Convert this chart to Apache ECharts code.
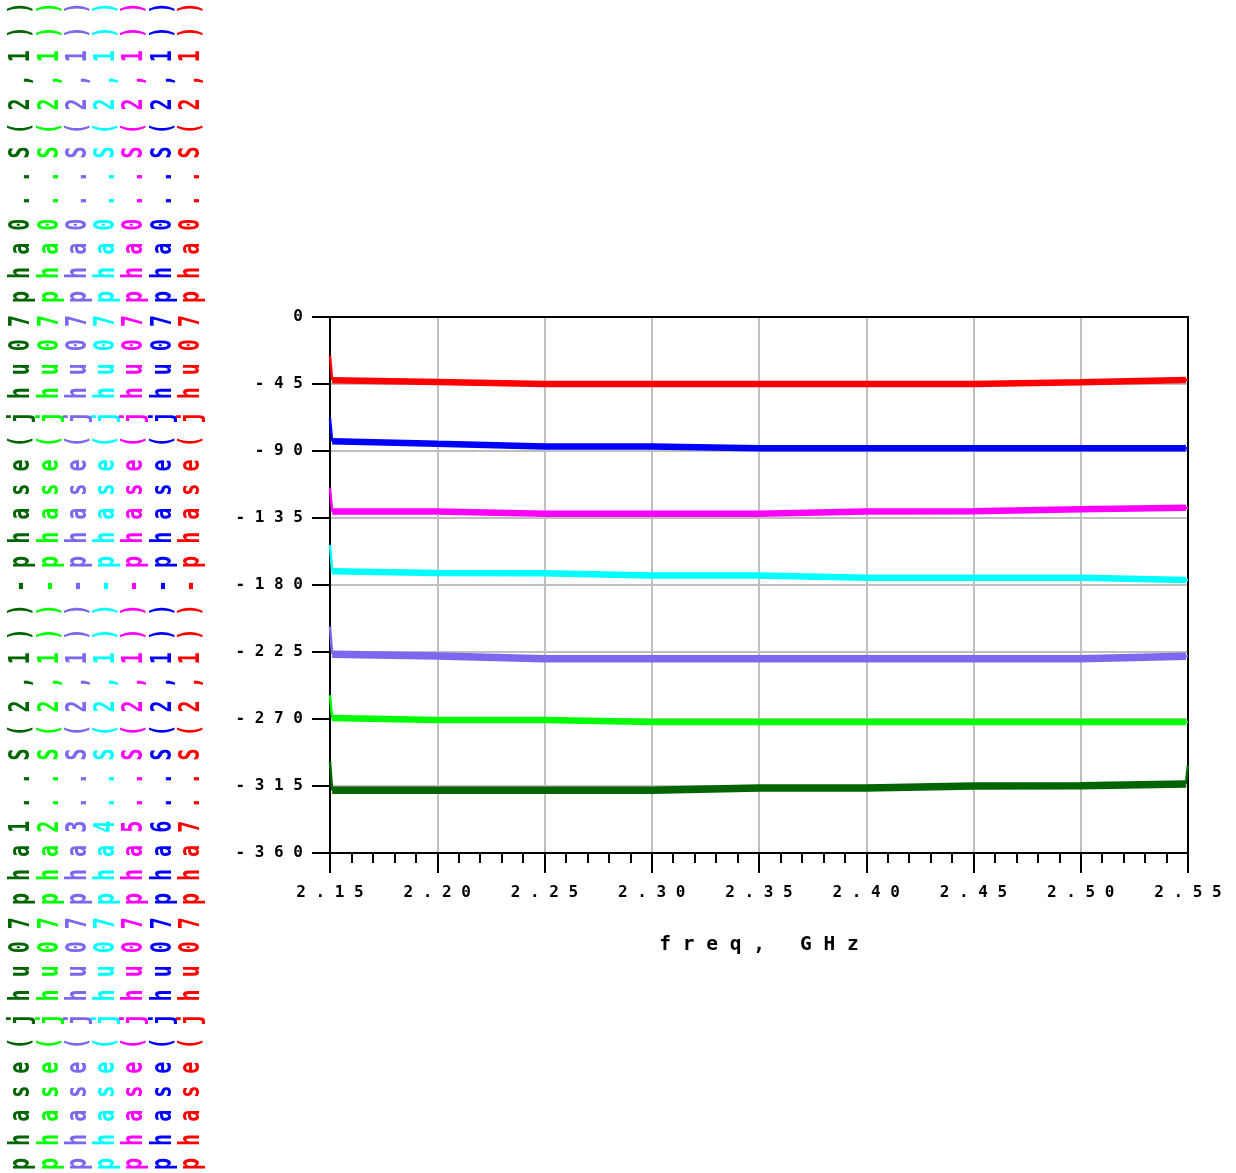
<!DOCTYPE html>
<html>
<head>
<meta charset="utf-8">
<script src="https://cdn.jsdelivr.net/npm/echarts@6/dist/echarts.min.js"></script>
<style>
  html, body { margin: 0; padding: 0; background: #ffffff; }
  #chart { width: 1236px; height: 1173px; }
</style>
</head>
<body>
<div id="chart"></div>
<script>
// Frequency sweep points (GHz)
const freq = [2.15, 2.151, 2.20, 2.25, 2.30, 2.35, 2.40, 2.45, 2.50, 2.549, 2.55];

// Relative phase of each path against pha0 (degrees)
const pha1 = [-298.6, -317.9, -317.9, -317.9, -317.9, -316.3, -316.3, -315.0, -314.8, -313.7, -300.9];
const pha2 = [-253.9, -269.3, -270.6, -270.6, -272.0, -272.0, -272.0, -272.0, -272.0, -272.0, -272.0];
const pha3 = [-208.0, -226.5, -227.7, -229.5, -229.5, -229.5, -229.5, -229.5, -229.5, -227.8, -227.7];
const pha4 = [-153.0, -170.8, -171.9, -172.1, -173.7, -173.7, -175.1, -175.1, -175.1, -176.6, -176.6];
const pha5 = [-115.0, -130.7, -130.7, -132.1, -132.1, -132.1, -130.7, -130.5, -129.2, -128.1, -128.1];
const pha6 = [-68.0, -83.5, -85.2, -86.9, -86.9, -88.2, -88.2, -88.2, -88.2, -88.2, -88.2];
const pha7 = [-26.0, -42.5, -43.7, -45.0, -45.0, -45.0, -45.0, -45.0, -43.9, -42.3, -42.3];

const traceValues = [pha1, pha2, pha3, pha4, pha5, pha6, pha7];

const traceNames = [
  'phase(jhu07pha1..S(2,1))-phase(jhu07pha0..S(2,1))',
  'phase(jhu07pha2..S(2,1))-phase(jhu07pha0..S(2,1))',
  'phase(jhu07pha3..S(2,1))-phase(jhu07pha0..S(2,1))',
  'phase(jhu07pha4..S(2,1))-phase(jhu07pha0..S(2,1))',
  'phase(jhu07pha5..S(2,1))-phase(jhu07pha0..S(2,1))',
  'phase(jhu07pha6..S(2,1))-phase(jhu07pha0..S(2,1))',
  'phase(jhu07pha7..S(2,1))-phase(jhu07pha0..S(2,1))'
];

const traceColors = ['#006400', '#00ff00', '#7b68ee', '#00ffff', '#ff00ff', '#0000ff', '#ff0000'];
const traceWidths = [7.5, 6.5, 7.5, 6.5, 6.5, 6.5, 6.5];

const xAxisTitle = 'freq, GHz';

// Monospaced text with a blank between every character
const spaced = s => String(s).split('').join(' ');

const MONO = '"DejaVu Sans Mono", "Liberation Mono", monospace';

const chart = echarts.init(document.getElementById('chart'), null, { renderer: 'canvas' });

const pairs = vals => freq.map((f, j) => [f, vals[j]]);

const series = [];
traceValues.forEach((vals, i) => {
  const pts = pairs(vals);
  const n = pts.length;
  const base = {
    type: 'line',
    xAxisIndex: 0,
    yAxisIndex: 0,
    showSymbol: false,
    symbol: 'none',
    clip: true,
    animation: false,
    itemStyle: { color: traceColors[i] }
  };
  // main body of the trace
  series.push(Object.assign({}, base, {
    name: traceNames[i],
    data: pts.slice(1, n - 1),
    lineStyle: { color: traceColors[i], width: traceWidths[i], cap: 'butt', join: 'bevel' }
  }));
  // steep first and last sweep segments, drawn thin
  series.push(Object.assign({}, base, {
    name: traceNames[i] + ' start',
    data: pts.slice(0, 2),
    lineStyle: { color: traceColors[i], width: 2.5, cap: 'butt' }
  }));
  series.push(Object.assign({}, base, {
    name: traceNames[i] + ' end',
    data: pts.slice(n - 2),
    lineStyle: { color: traceColors[i], width: 2.5, cap: 'butt' }
  }));
});

// Vertical trace labels on the left edge
const legendTexts = traceNames.map((name, i) => ({
  type: 'text',
  x: 22 + i * 28.3,
  y: 586,
  rotation: Math.PI / 2,
  scaleY: 1.4,
  silent: true,
  style: {
    text: spaced(name),
    fill: traceColors[i],
    font: 'bold 20px ' + MONO,
    textAlign: 'center',
    textVerticalAlign: 'middle',
    align: 'center',
    verticalAlign: 'middle'
  }
}));

const blackLine = { color: '#000000', width: 2 };

chart.setOption({
  animation: false,
  backgroundColor: '#ffffff',
  grid: { left: 330, right: 48, top: 317, bottom: 320, containLabel: false },
  xAxis: [
    {
      type: 'value',
      position: 'bottom',
      min: 2.15,
      max: 2.55,
      interval: 0.05,
      axisLine: { show: true, onZero: false, lineStyle: blackLine },
      axisTick: { show: true, inside: false, length: 20, lineStyle: blackLine },
      minorTick: { show: true, splitNumber: 5, length: 10, lineStyle: blackLine },
      splitLine: { show: true, lineStyle: { color: '#c0c0c0', width: 2 } },
      axisLabel: {
        margin: 32,
        color: '#000000',
        fontFamily: MONO,
        fontWeight: 'bold',
        fontSize: 16,
        formatter: v => spaced(v.toFixed(2))
      },
      name: spaced(xAxisTitle),
      nameLocation: 'middle',
      nameGap: 82,
      nameTextStyle: {
        color: '#000000',
        fontFamily: MONO,
        fontWeight: 'bold',
        fontSize: 19.5
      }
    },
    {
      type: 'value',
      position: 'top',
      min: 2.15,
      max: 2.55,
      axisLine: { show: true, onZero: false, lineStyle: blackLine },
      axisTick: { show: false },
      axisLabel: { show: false },
      splitLine: { show: false }
    }
  ],
  yAxis: [
    {
      type: 'value',
      position: 'left',
      min: -360,
      max: 0,
      interval: 45,
      axisLine: { show: true, onZero: false, lineStyle: blackLine },
      axisTick: { show: true, inside: false, length: 18, lineStyle: blackLine },
      splitLine: { show: true, lineStyle: { color: '#c0c0c0', width: 2 } },
      axisLabel: {
        margin: 27,
        color: '#000000',
        fontFamily: MONO,
        fontWeight: 'bold',
        fontSize: 16,
        formatter: v => spaced(v)
      }
    },
    {
      type: 'value',
      position: 'right',
      min: -360,
      max: 0,
      axisLine: { show: true, onZero: false, lineStyle: blackLine },
      axisTick: { show: false },
      axisLabel: { show: false },
      splitLine: { show: false }
    }
  ],
  series: series,
  graphic: { elements: legendTexts }
});
</script>
</body>
</html>
